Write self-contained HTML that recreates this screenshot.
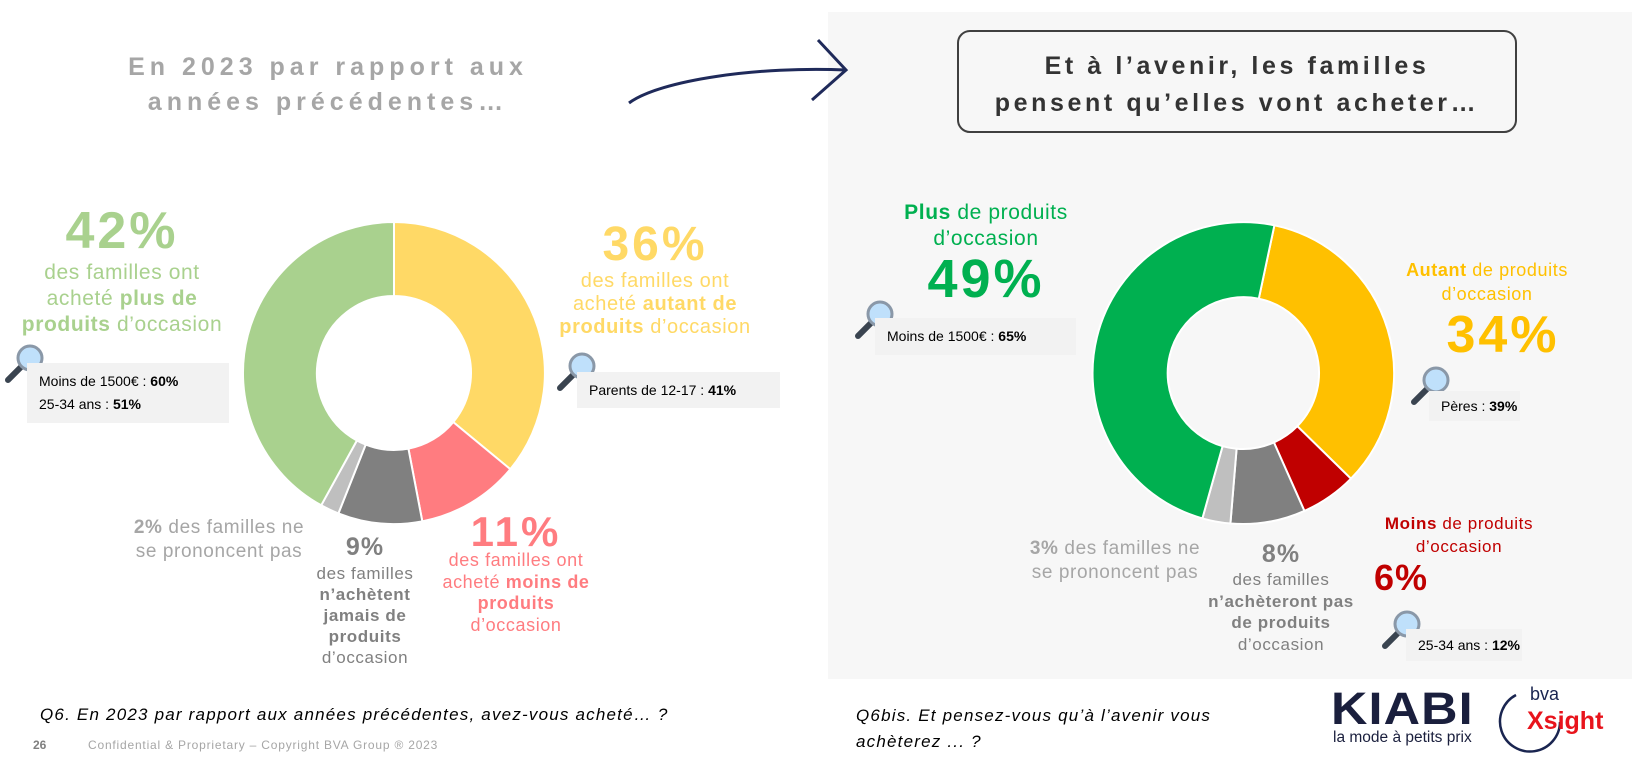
<!DOCTYPE html>
<html><head><meta charset="utf-8"><style>
body{margin:0;width:1649px;height:767px;background:#fff;position:relative;overflow:hidden;font-family:"Liberation Sans",sans-serif}
.a{position:absolute;white-space:nowrap}
.c{transform:translateX(-50%);text-align:center}
.box{position:absolute;background:#f2f2f2;font-size:14px;color:#000;padding-left:12px;box-sizing:border-box}
b{font-weight:bold}
.big{letter-spacing:3px}
.t{letter-spacing:0.6px}
</style></head><body>
<div class="a" style="left:828px;top:12px;width:804px;height:667px;background:#f7f7f7"></div>

<div class="a c" style="left:328px;top:50px;font-size:25px;font-weight:bold;color:#a6a6a6;letter-spacing:5px;line-height:35px">En 2023 par rapport aux<br>années précédentes…</div>

<svg class="a" style="left:0;top:0" width="1649" height="767">
<path d="M629 103 C 660 80, 760 66, 846 70" fill="none" stroke="#1f2a5a" stroke-width="3"/>
<path d="M818 40 L846 70 L812 100" fill="none" stroke="#1f2a5a" stroke-width="3"/>
<g stroke="#fff" stroke-width="2">
<path d="M394 222 A151 151 0 0 1 510.3 469.2 L453.3 422.1 A77 77 0 0 0 394 296Z" fill="#ffd966"/>
<path d="M510.3 469.2 A151 151 0 0 1 422.3 521.3 L408.4 448.6 A77 77 0 0 0 453.3 422.1Z" fill="#ff7c80"/>
<path d="M422.3 521.3 A151 151 0 0 1 338.4 513.4 L365.7 444.6 A77 77 0 0 0 408.4 448.6Z" fill="#808080"/>
<path d="M338.4 513.4 A151 151 0 0 1 321.2 505.3 L356.9 440.5 A77 77 0 0 0 365.7 444.6Z" fill="#bfbfbf"/>
<path d="M321.2 505.3 A151 151 0 0 1 394 222 L394 296 A77 77 0 0 0 356.9 440.5Z" fill="#a9d18e"/>
<path d="M1274.4 225.3 A151 151 0 0 1 1350.9 478.7 L1297.3 426.2 A76 76 0 0 0 1258.8 298.7Z" fill="#ffc000"/>
<path d="M1350.9 478.7 A151 151 0 0 1 1304.4 510.9 L1273.9 442.4 A76 76 0 0 0 1297.3 426.2Z" fill="#c00000"/>
<path d="M1304.4 510.9 A151 151 0 0 1 1230.4 523.5 L1236.6 448.7 A76 76 0 0 0 1273.9 442.4Z" fill="#808080"/>
<path d="M1230.4 523.5 A151 151 0 0 1 1202.4 518.4 L1222.6 446.2 A76 76 0 0 0 1236.6 448.7Z" fill="#bfbfbf"/>
<path d="M1202.4 518.4 A151 151 0 0 1 1274.4 225.3 L1258.8 298.7 A76 76 0 0 0 1222.6 446.2Z" fill="#00b050"/>
</g>
<defs><g id="mg"><line x1="4" y1="36" x2="18" y2="22" stroke="#3a4450" stroke-width="6" stroke-linecap="round"/><circle cx="26" cy="14" r="12" fill="#bfe0fb" stroke="#8a98a8" stroke-width="3"/></g></defs>
<use href="#mg" x="4" y="344"/>
<use href="#mg" x="556" y="352"/>
<use href="#mg" x="854" y="300"/>
<use href="#mg" x="1410" y="366"/>
<use href="#mg" x="1381" y="610"/>
<path d="M1516 695 A30 30 0 1 0 1560 722" fill="none" stroke="#1a2550" stroke-width="2.5"/>
</svg>

<div class="a" style="left:957px;top:30px;width:560px;height:103px;box-sizing:border-box;border:2px solid #404040;border-radius:13px;background:#f7f7f7"></div>
<div class="a c" style="left:1237px;top:48px;font-size:25px;font-weight:bold;color:#333;letter-spacing:3.6px;line-height:37px">Et à l’avenir, les familles<br>pensent qu’elles vont acheter…</div>

<!-- left labels -->
<div class="a c big" style="left:122px;top:201px;font-size:52px;font-weight:bold;color:#a9d18e">42%</div>
<div class="a c t" style="left:122px;top:260px;font-size:21px;color:#a9d18e;line-height:26px">des familles ont<br>acheté <b>plus de</b><br><b>produits</b> d’occasion</div>
<div class="box" style="left:27px;top:363px;width:202px;height:60px;line-height:23px;padding-top:7px">Moins de 1500€ : <b>60%</b><br>25-34 ans : <b>51%</b></div>

<div class="a c big" style="left:655px;top:217px;font-size:48px;font-weight:bold;color:#ffd966">36%</div>
<div class="a c t" style="left:655px;top:270px;font-size:20px;color:#ffd966;line-height:23px">des familles ont<br>acheté <b>autant de</b><br><b>produits</b> d’occasion</div>
<div class="box" style="left:577px;top:372px;width:203px;height:36px;line-height:36px">Parents de 12-17 : <b>41%</b></div>

<div class="a c big" style="left:516px;top:508px;font-size:42px;font-weight:bold;color:#ff7c80">11%</div>
<div class="a c t" style="left:516px;top:550px;font-size:18px;color:#ff7c80;line-height:21.5px">des familles ont<br>acheté <b>moins de</b><br><b>produits</b><br>d’occasion</div>

<div class="a c t" style="left:219px;top:516px;font-size:19px;color:#a6a6a6;line-height:24px"><b>2%</b> des familles ne<br>se prononcent pas</div>
<div class="a c big" style="left:365px;top:533px;font-size:25px;font-weight:bold;color:#808080;letter-spacing:1px">9%</div>
<div class="a c t" style="left:365px;top:563px;font-size:17px;color:#808080;line-height:21px">des familles<br><b>n’achètent</b><br><b>jamais de</b><br><b>produits</b><br>d’occasion</div>

<!-- right labels -->
<div class="a c t" style="left:986px;top:200px;font-size:21px;color:#00b050;line-height:26px"><b>Plus</b> de produits<br>d’occasion</div>
<div class="a c big" style="left:986px;top:248px;font-size:54px;font-weight:bold;color:#00b050">49%</div>
<div class="box" style="left:875px;top:318px;width:201px;height:37px;line-height:37px">Moins de 1500€ : <b>65%</b></div>

<div class="a c t" style="left:1487px;top:258px;font-size:18px;color:#ffc000;line-height:24px"><b>Autant</b> de produits<br>d’occasion</div>
<div class="a c big" style="left:1503px;top:305px;font-size:52px;font-weight:bold;color:#ffc000">34%</div>
<div class="box" style="left:1429px;top:391px;width:91px;height:30px;line-height:30px">Pères : <b>39%</b></div>

<div class="a c t" style="left:1459px;top:512px;font-size:17px;color:#c00000;line-height:23px"><b>Moins</b> de produits<br>d’occasion</div>
<div class="a c big" style="left:1401px;top:557px;font-size:36px;font-weight:bold;color:#c00000;letter-spacing:1px">6%</div>
<div class="box" style="left:1406px;top:629px;width:116px;height:32px;line-height:32px">25-34 ans : <b>12%</b></div>

<div class="a c t" style="left:1115px;top:537px;font-size:19px;color:#a6a6a6;line-height:24px"><b>3%</b> des familles ne<br>se prononcent pas</div>
<div class="a c big" style="left:1281px;top:540px;font-size:25px;font-weight:bold;color:#808080;letter-spacing:1px">8%</div>
<div class="a c t" style="left:1281px;top:569px;font-size:17px;color:#808080;line-height:21.5px">des familles<br><b>n’achèteront pas</b><br><b>de produits</b><br>d’occasion</div>

<!-- footer -->
<div class="a" style="left:40px;top:705px;font-size:17px;font-style:italic;color:#000;letter-spacing:1.2px">Q6. En 2023 par rapport aux années précédentes, avez-vous acheté… ?</div>
<div class="a" style="left:33px;top:738px;font-size:12px;font-weight:bold;color:#7f7f7f">26</div>
<div class="a" style="left:88px;top:738px;font-size:12px;color:#a6a6a6;letter-spacing:0.8px">Confidential &amp; Proprietary – Copyright BVA Group ®  2023</div>
<div class="a" style="left:856px;top:703px;font-size:17px;font-style:italic;color:#000;line-height:26px;letter-spacing:1.2px">Q6bis. Et pensez-vous qu’à l’avenir vous<br>achèterez ... ?</div>
<div class="a" style="left:1331px;top:688px;font-size:45px;font-weight:bold;color:#1a1f3d;letter-spacing:1px;line-height:42px;transform:scaleX(1.12);transform-origin:left">KIABI</div>
<div class="a" style="left:1333px;top:729px;font-size:15.5px;color:#1a1f3d">la mode à petits prix</div>
<div class="a" style="left:1530px;top:684px;font-size:18px;color:#1a2550;line-height:20px">bva</div>
<div class="a" style="left:1527px;top:707px;font-size:25px;font-weight:bold;color:#e8141c;line-height:28px">Xsight</div>
</body></html>
